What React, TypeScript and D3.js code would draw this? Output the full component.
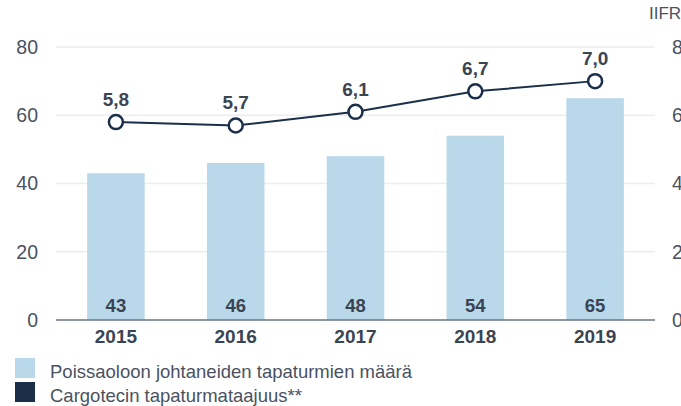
import React from 'react';
import * as d3 from 'd3';

const years = ['2015', '2016', '2017', '2018', '2019'];
const accidents = [43, 46, 48, 54, 65];
const iifr = [5.8, 5.7, 6.1, 6.7, 7.0];
const leftTicks = [0, 20, 40, 60, 80];
const rightTicks = [0, 2, 4, 6, 8];
const legendLabels = ['Poissaoloon johtaneiden tapaturmien määrä', 'Cargotecin tapaturmataajuus**'];

const width = 681;
const height = 406;
const margin = { top: 47, right: 26, bottom: 86, left: 56 };

const barColor = '#b9d8ea';
const navy = '#1b2e4a';
const textColor = '#3b4453';
const tickColor = '#4a5261';
const font = '"Liberation Sans", Arial, Helvetica, sans-serif';

const App = () => {
  const x = d3.scaleBand()
    .domain(years)
    .range([margin.left, width - margin.right])
    .paddingInner(0.52)
    .paddingOuter(0.26);

  const y = d3.scaleLinear().domain([0, 80]).range([height - margin.bottom, margin.top]);
  const y2 = d3.scaleLinear().domain([0, 8]).range([height - margin.bottom, margin.top]);

  const cx = (d: string) => (x(d) ?? 0) + x.bandwidth() / 2;

  const line = d3.line<number>()
    .x((_, i) => cx(years[i]))
    .y(d => y2(d));

  const fmt = (v: number) => v.toFixed(1).replace('.', ',');

  return (
    <svg width={width} height={height} style={{ position: 'absolute', left: 0, top: 0, fontFamily: font }}>
      {/* gridlines */}
      {leftTicks.filter(t => t > 0).map(t => (
        <line key={t} x1={margin.left} x2={width - margin.right} y1={y(t)} y2={y(t)} stroke="#e9eeef" strokeWidth={1.5} />
      ))}

      {/* bars */}
      {accidents.map((v, i) => (
        <rect key={years[i]} x={x(years[i])} y={y(v)} width={x.bandwidth()} height={y(0) - y(v)} fill={barColor} />
      ))}

      {/* bar labels */}
      {accidents.map((v, i) => (
        <text key={'b' + i} x={cx(years[i])} y={y(0) - 8} textAnchor="middle" fontSize={18.5} fontWeight="bold" fill={textColor}>{v}</text>
      ))}

      {/* axis baseline */}
      <line x1={margin.left} x2={width - margin.right} y1={y(0)} y2={y(0)} stroke="#6b7380" strokeWidth={1.5} />

      {/* left ticks */}
      {leftTicks.map(t => (
        <text key={'l' + t} x={38} y={y(t)} dy="0.35em" textAnchor="end" fontSize={19.5} fill={tickColor}>{t}</text>
      ))}

      {/* right ticks */}
      {rightTicks.map(t => (
        <text key={'r' + t} x={672} y={y2(t)} dy="0.35em" textAnchor="start" fontSize={19.5} fill={tickColor}>{t}</text>
      ))}
      <text x={649} y={19} fontSize={17} fill={tickColor}>IIFR</text>

      {/* year labels */}
      {years.map(yr => (
        <text key={yr} x={cx(yr)} y={343} textAnchor="middle" fontSize={19} fontWeight="bold" fill={textColor}>{yr}</text>
      ))}

      {/* line */}
      <path d={line(iifr) ?? ''} fill="none" stroke={navy} strokeWidth={2} />
      {iifr.map((v, i) => (
        <g key={'p' + i}>
          <circle cx={cx(years[i])} cy={y2(v)} r={7} fill="#fff" stroke={navy} strokeWidth={2.5} />
          <text x={cx(years[i])} y={y2(v) - 16} textAnchor="middle" fontSize={19} fontWeight="bold" fill={textColor}>{fmt(v)}</text>
        </g>
      ))}

      {/* legend */}
      {legendLabels.map((l, i) => (
        <g key={l} transform={`translate(15,${358 + i * 24})`}>
          <rect width={20} height={20} fill={i === 0 ? barColor : navy} />
          <text x={35} y={19.5} fontSize={18.5} fill={tickColor}>{l}</text>
        </g>
      ))}
    </svg>
  );
};

export default App;
